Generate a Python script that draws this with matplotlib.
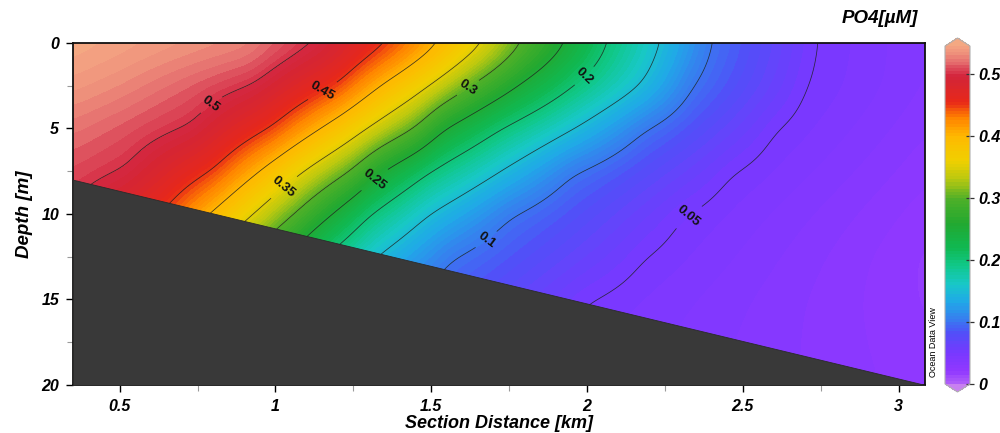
import matplotlib
matplotlib.use("Agg")
import matplotlib.pyplot as plt
import numpy as np
from matplotlib.colors import LinearSegmentedColormap

# PO4 section: isoline crossings picked on fixed depth rows
depth_rows = [0, 2.5, 5, 7.5, 10, 12.5, 15, 17.5, 20]
iso_levels = [0.5, 0.45, 0.4, 0.35, 0.3, 0.25, 0.2, 0.15, 0.1, 0.05]
labelled_levels = [0.05, 0.1, 0.2, 0.25, 0.3, 0.35, 0.45, 0.5]

# distance [km] of each isoline on each depth row (rows below the seabed continue the trend)
iso_053 = [0.90, 0.50, 0.20, -0.05, -0.25, -0.45, -0.65, -0.85, -1.05]
iso_050 = [1.15, 0.93, 0.73, 0.52, 0.33, 0.16, 0.00, -0.15, -0.30]
iso_045 = [1.38, 1.20, 0.99, 0.80, 0.64, 0.49, 0.35, 0.21, 0.07]
iso_040 = [1.54, 1.34, 1.15, 0.95, 0.79, 0.64, 0.50, 0.36, 0.22]
iso_035 = [1.68, 1.50, 1.30, 1.09, 0.93, 0.78, 0.64, 0.50, 0.36]
iso_030 = [1.80, 1.63, 1.45, 1.24, 1.06, 0.91, 0.77, 0.63, 0.49]
iso_025 = [1.94, 1.78, 1.54, 1.34, 1.18, 1.03, 0.89, 0.75, 0.61]
iso_020 = [2.07, 1.96, 1.72, 1.49, 1.30, 1.15, 1.01, 0.87, 0.73]
iso_015 = [2.24, 2.18, 1.96, 1.72, 1.49, 1.32, 1.17, 1.03, 0.89]
iso_010 = [2.40, 2.34, 2.18, 1.95, 1.75, 1.56, 1.40, 1.26, 1.12]
iso_005 = [2.73, 2.70, 2.60, 2.46, 2.30, 2.18, 1.99, 1.82, 1.65]

# concentrations at the western / eastern ends of each row
west_x = -1.5
west_po4 = [0.615, 0.63, 0.58, 0.57, 0.56, 0.56, 0.56, 0.56, 0.56]
east_x = 3.2
east_po4 = [0.030, 0.030, 0.026, 0.022, 0.018, 0.015, 0.016, 0.018, 0.020]

# seabed
bottom_dist = [0.35, 3.085]
bottom_depth = [8.0, 20.0]

cbar_ticks = [0, 0.1, 0.2, 0.3, 0.4, 0.5]
label_spots = [(2.31, 9.8), (1.66, 11.1), (1.99, 1.9), (1.318, 8.0),
               (1.617, 2.6), (1.025, 8.4), (1.16, 3.1), (0.81, 4.0)]

table_levels = [0.53] + iso_levels
iso_table = np.array([iso_053, iso_050, iso_045, iso_040, iso_035, iso_030,
                      iso_025, iso_020, iso_015, iso_010, iso_005])

# ODV-like rainbow
odv_colors = [
    (0.000, "#b060f8"), (0.036, "#9038ff"), (0.090, "#7838ff"),
    (0.150, "#5050f8"), (0.185, "#3a78f0"), (0.240, "#20a8e8"),
    (0.295, "#18c8c8"), (0.350, "#10c888"), (0.405, "#10b850"),
    (0.475, "#22a830"), (0.550, "#50b028"), (0.605, "#b8c810"),
    (0.660, "#f0d000"), (0.735, "#ffb800"), (0.790, "#ff8000"),
    (0.835, "#e82818"), (0.900, "#d42535"), (0.917, "#d42840"),
    (0.936, "#dc4858"), (0.954, "#e46a6c"), (0.972, "#ec8878"),
    (1.000, "#f4a482"),
]
cmap = LinearSegmentedColormap.from_list("odv", odv_colors)
cmap.set_under("#c880f0")
cmap.set_over("#f4a882")

vmin, vmax = 0.0, 0.545

# grid the section
xg = np.linspace(0.35, 3.085, 500)
zg = np.linspace(0, 20, 241)
rows = []
for j in range(len(depth_rows)):
    xp = np.concatenate([[west_x], iso_table[:, j], [east_x]])
    fp = np.concatenate([[west_po4[j]], table_levels, [east_po4[j]]])
    rows.append(np.interp(xg, xp, fp))
rows = np.array(rows)
field = np.empty((len(zg), len(xg)))
for i in range(len(xg)):
    field[:, i] = np.interp(zg, depth_rows, rows[:, i])


def smooth(a, sig, axis):
    r = int(3 * sig)
    k = np.exp(-0.5 * (np.arange(-r, r + 1) / sig) ** 2)
    k /= k.sum()
    pad = [(0, 0), (0, 0)]
    pad[axis] = (r, r)
    ap = np.pad(a, pad, mode="edge")
    return np.apply_along_axis(lambda v: np.convolve(v, k, mode="valid"), axis, ap)


field = smooth(field, 10, 0)
field = smooth(field, 5, 1)

plt.rcParams["font.family"] = ["Liberation Sans", "DejaVu Sans"]

fig = plt.figure(figsize=(10, 4.33), dpi=100)
ax = fig.add_axes([0.073, 0.111, 0.852, 0.79])

fill_levels = np.arange(0, 0.5451, 0.005)
cf = ax.contourf(xg, zg, field, levels=fill_levels, cmap=cmap,
                 vmin=vmin, vmax=vmax, extend="both")
plain = [v for v in iso_levels if v not in labelled_levels]
ax.contour(xg, zg, field, levels=sorted(plain), colors="#202020",
           linewidths=0.55, alpha=0.85)
cs = ax.contour(xg, zg, field, levels=labelled_levels, colors="#202020",
                linewidths=0.55, alpha=0.85)
ax.clabel(cs, manual=label_spots, inline=True, inline_spacing=4,
          fontsize=9.5, fmt=lambda v: f"{v:g}", colors="#111111")
for t in cs.labelTexts:
    t.set_fontweight("bold")
    t.set_alpha(1)

ax.fill_between(bottom_dist, bottom_depth, 20, color="#393939", zorder=3,
                linewidth=0.6, edgecolor="#2a2a2a")

ax.set_xlim(0.35, 3.085)
ax.set_ylim(20, 0)
ax.set_xticks([0.5, 1, 1.5, 2, 2.5, 3])
ax.set_xticklabels(["0.5", "1", "1.5", "2", "2.5", "3"])
ax.set_xticks(np.arange(0.75, 3.0, 0.5), minor=True)
ax.set_yticks([0, 5, 10, 15, 20])
ax.set_yticks([2.5, 7.5, 12.5, 17.5], minor=True)
ax.tick_params(which="major", direction="out", length=5, width=1.0,
               labelsize=11.5, pad=5)
ax.tick_params(which="minor", direction="out", length=4, width=0.8,
               color="#9a9a9a")
for lab in ax.get_xticklabels() + ax.get_yticklabels():
    lab.set_fontweight("bold")
    lab.set_fontstyle("italic")
for s in ax.spines.values():
    s.set_linewidth(1.3)
    s.set_color("#111111")

ax.set_xlabel("Section Distance [km]", fontsize=13, fontweight="bold",
              fontstyle="italic", labelpad=1)
ax.set_ylabel("Depth [m]", fontsize=13.5, fontweight="bold",
              fontstyle="italic", labelpad=6)

# colour bar (axes box spans tip to tip of the end triangles)
cax = fig.add_axes([0.945, 1 - 392 / 433, 0.025, 354 / 433])
cb = fig.colorbar(cf, cax=cax, extend="both", extendfrac=0.024,
                  ticks=cbar_ticks)
cb.set_ticklabels([f"{v:g}" for v in cbar_ticks])
cb.outline.set_edgecolor("#b0b0b0")
cb.outline.set_linewidth(0.8)
cax.tick_params(direction="inout", length=6, width=0.9, color="#333333",
                labelsize=11.5, pad=3)
for lab in cax.get_yticklabels():
    lab.set_fontweight("bold")
    lab.set_fontstyle("italic")

fig.text(0.918, 0.958, "PO4[µM]", ha="right", va="center", fontsize=13.5,
         fontweight="bold", fontstyle="italic")
fig.text(0.933, 0.21, "Ocean Data View", rotation=90, ha="center",
         va="center", fontsize=6.5)

fig.savefig("out.png", dpi=100)
